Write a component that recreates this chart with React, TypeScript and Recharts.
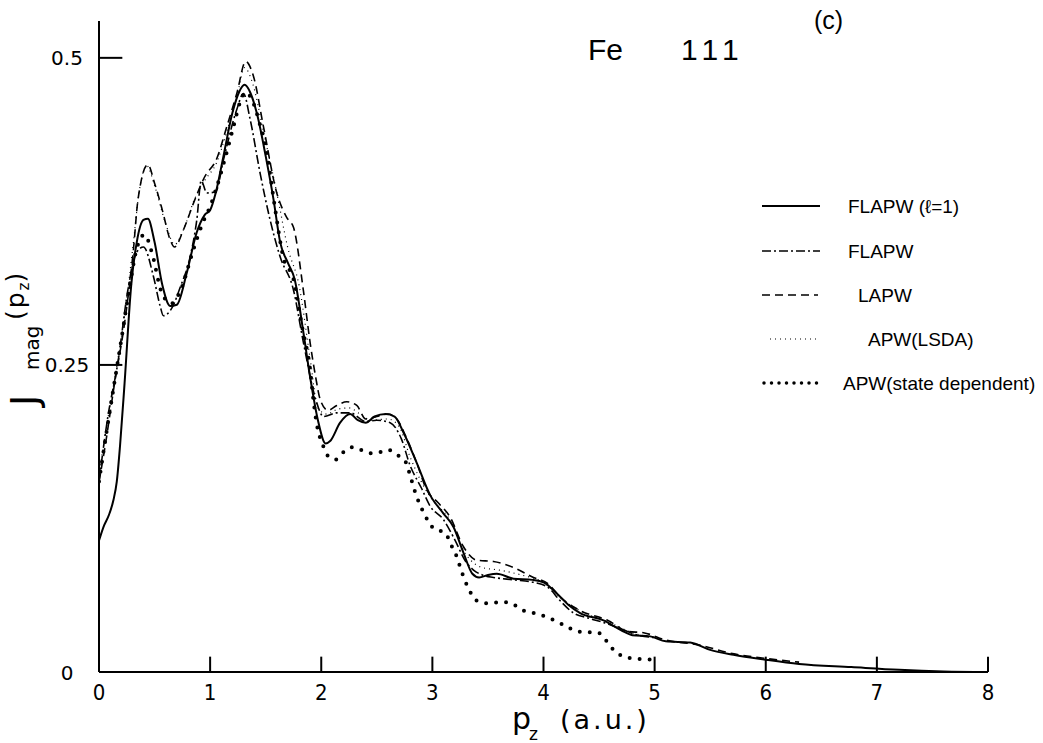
import React from 'react';
import { LineChart, Line, XAxis, YAxis, ReferenceLine } from 'recharts';

// p_z (a.u.) vs J_mag(p_z)
const xTicks = [0, 1, 2, 3, 4, 5, 6, 7, 8];
const yTicks = [0, 0.25, 0.5];
const yTickLabels = ['0', '0.25', '0.5'];

const flapwL1 = [
  [0, 0.107], [0.04, 0.118], [0.09, 0.128], [0.13, 0.14], [0.16, 0.155], [0.19, 0.185],
  [0.23, 0.235], [0.29, 0.315], [0.34, 0.35], [0.4, 0.368], [0.44, 0.369], [0.5, 0.35],
  [0.57, 0.315], [0.64, 0.298], [0.7, 0.299], [0.79, 0.325], [0.88, 0.358], [0.95, 0.372],
  [1.0, 0.376], [1.05, 0.39], [1.12, 0.42], [1.2, 0.455], [1.26, 0.472], [1.31, 0.478],
  [1.36, 0.472], [1.42, 0.455], [1.5, 0.42], [1.57, 0.385], [1.63, 0.35], [1.7, 0.333],
  [1.76, 0.32], [1.84, 0.276], [1.9, 0.24], [1.97, 0.205], [2.04, 0.186], [2.08, 0.188],
  [2.17, 0.203], [2.26, 0.21], [2.33, 0.205], [2.4, 0.203], [2.48, 0.208], [2.58, 0.21],
  [2.66, 0.208], [2.74, 0.195], [2.86, 0.17], [2.98, 0.144], [3.1, 0.129], [3.19, 0.118],
  [3.28, 0.097], [3.36, 0.08], [3.42, 0.077], [3.5, 0.079], [3.58, 0.08], [3.73, 0.076],
  [3.9, 0.075], [4.0, 0.073], [4.12, 0.064], [4.22, 0.055], [4.33, 0.048], [4.54, 0.042],
  [4.7, 0.034], [4.8, 0.03], [4.96, 0.029], [5.1, 0.025], [5.32, 0.024], [5.5, 0.018],
  [5.71, 0.014], [6.0, 0.01], [6.3, 0.0065], [6.77, 0.004], [7.2, 0.0018], [7.6, 0.0005],
  [8.0, 0.0],
];

const flapw = [
  [0, 0.155], [0.08, 0.208], [0.17, 0.252], [0.26, 0.311], [0.34, 0.342], [0.4, 0.346],
  [0.49, 0.322], [0.55, 0.298], [0.58, 0.29], [0.66, 0.297], [0.73, 0.313], [0.82, 0.338],
  [0.88, 0.368], [0.92, 0.4], [0.97, 0.39], [1.05, 0.391], [1.12, 0.417], [1.24, 0.458],
  [1.3, 0.471], [1.36, 0.45], [1.45, 0.406], [1.54, 0.368], [1.63, 0.338], [1.75, 0.311],
  [1.84, 0.268], [1.95, 0.222], [2.02, 0.208], [2.14, 0.211], [2.26, 0.211], [2.4, 0.204],
  [2.5, 0.205], [2.62, 0.203], [2.72, 0.19], [2.8, 0.168], [2.9, 0.15], [2.98, 0.135],
  [3.1, 0.124], [3.2, 0.108], [3.3, 0.09], [3.37, 0.083], [3.45, 0.079], [3.55, 0.077],
  [3.73, 0.075], [3.91, 0.073], [4.04, 0.069], [4.15, 0.058], [4.27, 0.048], [4.4, 0.044],
  [4.55, 0.04], [4.7, 0.035], [4.85, 0.03], [5.0, 0.028],
];

const lapw = [
  [0, 0.155], [0.05, 0.181], [0.14, 0.235], [0.23, 0.284], [0.31, 0.344], [0.35, 0.384],
  [0.44, 0.413], [0.5, 0.398], [0.57, 0.376], [0.64, 0.352], [0.68, 0.346], [0.76, 0.36],
  [0.86, 0.384], [0.95, 0.403], [1.06, 0.418], [1.15, 0.444], [1.24, 0.471], [1.32, 0.497],
  [1.39, 0.485], [1.48, 0.444], [1.6, 0.39], [1.69, 0.37], [1.75, 0.362], [1.84, 0.31],
  [1.9, 0.268], [1.95, 0.24], [1.99, 0.222], [2.06, 0.213], [2.14, 0.217], [2.23, 0.22],
  [2.32, 0.217], [2.4, 0.206], [2.5, 0.208], [2.6, 0.21], [2.68, 0.206], [2.76, 0.192],
  [2.86, 0.17], [2.95, 0.148], [3.05, 0.138], [3.16, 0.126], [3.28, 0.102], [3.4, 0.091],
  [3.55, 0.09], [3.73, 0.085], [3.91, 0.077], [4.04, 0.072], [4.15, 0.061], [4.33, 0.05],
  [4.58, 0.042], [4.76, 0.033], [4.9, 0.032], [5.1, 0.026], [5.4, 0.022], [5.7, 0.015],
  [6.0, 0.011], [6.3, 0.008],
];

const apwLsda = [
  [0, 0.16], [0.05, 0.19], [0.14, 0.238], [0.23, 0.29], [0.31, 0.35], [0.36, 0.39],
  [0.43, 0.412], [0.5, 0.396], [0.6, 0.365], [0.68, 0.348], [0.76, 0.36], [0.86, 0.385],
  [0.95, 0.4], [1.06, 0.415], [1.15, 0.44], [1.24, 0.468], [1.31, 0.492], [1.38, 0.48],
  [1.48, 0.44], [1.6, 0.39], [1.7, 0.345], [1.8, 0.315], [1.9, 0.255], [1.97, 0.215],
  [2.05, 0.21], [2.15, 0.214], [2.25, 0.215], [2.35, 0.21], [2.45, 0.205], [2.6, 0.206],
  [2.7, 0.2], [2.8, 0.175], [2.9, 0.155], [3.0, 0.14], [3.15, 0.125], [3.3, 0.096],
  [3.45, 0.085], [3.6, 0.083], [3.8, 0.079], [4.0, 0.073], [4.2, 0.057], [4.4, 0.047],
  [4.6, 0.04], [4.8, 0.032], [5.0, 0.028],
];

const apwState = [
  [0, 0.155], [0.05, 0.185], [0.12, 0.225], [0.2, 0.27], [0.27, 0.31], [0.34, 0.345],
  [0.41, 0.356], [0.48, 0.34], [0.56, 0.31], [0.65, 0.3], [0.73, 0.31], [0.85, 0.344],
  [0.93, 0.365], [1.0, 0.379], [1.06, 0.395], [1.14, 0.42], [1.21, 0.444], [1.27, 0.464],
  [1.32, 0.472], [1.39, 0.463], [1.45, 0.445], [1.51, 0.423], [1.58, 0.38], [1.66, 0.337],
  [1.75, 0.32], [1.83, 0.28], [1.9, 0.246], [1.93, 0.221], [1.97, 0.197], [2.01, 0.186],
  [2.05, 0.177], [2.13, 0.173], [2.2, 0.179], [2.28, 0.183], [2.35, 0.181], [2.44, 0.178],
  [2.53, 0.179], [2.6, 0.181], [2.68, 0.177], [2.76, 0.171], [2.8, 0.16], [2.85, 0.145],
  [2.92, 0.13], [3.01, 0.117], [3.12, 0.113], [3.16, 0.105], [3.21, 0.096], [3.27, 0.08],
  [3.33, 0.067], [3.4, 0.058], [3.5, 0.056], [3.64, 0.057], [3.73, 0.055], [3.82, 0.05],
  [3.91, 0.048], [4.02, 0.045], [4.12, 0.041], [4.21, 0.037], [4.3, 0.033], [4.49, 0.032],
  [4.56, 0.026], [4.63, 0.018], [4.71, 0.013], [4.81, 0.011], [5.0, 0.01],
];

const toPoints = (arr: number[][]) => arr.map(([x, y]) => ({ x, y }));

const series = [
  { name: 'FLAPW (ℓ=1)', data: flapwL1, width: 2, dash: undefined as string | undefined, cap: 'butt' },
  { name: 'FLAPW', data: flapw, width: 1.6, dash: '9 3 2 3', cap: 'butt' },
  { name: 'LAPW', data: lapw, width: 1.6, dash: '8 5', cap: 'butt' },
  { name: 'APW(LSDA)', data: apwLsda, width: 1.2, dash: '1 4', cap: 'butt' },
  { name: 'APW(state dependent)', data: apwState, width: 4, dash: '0 10', cap: 'round' },
];

const legendRows = [
  { y: 206, x1: 762, x2: 820, tx: 848 },
  { y: 251, x1: 762, x2: 820, tx: 848 },
  { y: 295, x1: 762, x2: 818, tx: 858 },
  { y: 339, x1: 770, x2: 817, tx: 868 },
  { y: 383, x1: 764, x2: 818, tx: 843 },
];

const FONT = "'Liberation Sans', Arial, sans-serif";
const AXIS_FONT = "'DejaVu Sans', sans-serif";
const NUM_FONT = "'Liberation Sans Narrow', 'DejaVu Sans Condensed', 'Liberation Sans', sans-serif";
const X_TICK_LEN = 0.0125;
const Y_TICK_LEN = 0.21;

const XTick = (props: any) => {
  const { x, y, payload } = props;
  return (
    <text x={x} y={y + 20} textAnchor="middle" fontFamily={NUM_FONT} fontSize={22} fill="#000">
      {payload.value}
    </text>
  );
};

const YTick = (props: any) => {
  const { y, payload } = props;
  const i = yTicks.indexOf(payload.value);
  return (
    <text x={67} y={y + 7.5} textAnchor="middle" fontFamily={AXIS_FONT} fontSize={20} fill="#000">
      {yTickLabels[i]}
    </text>
  );
};

export default function App() {
  return (
    <div style={{ position: 'absolute', left: 0, top: 0, width: 1043, height: 743, background: '#fff' }}>
      <LineChart width={1043} height={743} margin={{ top: 21, right: 55, bottom: 31, left: 0 }}>
        <XAxis
          dataKey="x"
          type="number"
          domain={[0, 8]}
          ticks={xTicks}
          tickLine={false}
          axisLine={{ stroke: '#000', strokeWidth: 2 }}
          tick={<XTick />}
          height={40}
          allowDataOverflow
        />
        <YAxis
          type="number"
          domain={[0, 0.53]}
          ticks={yTicks}
          tickLine={false}
          axisLine={{ stroke: '#000', strokeWidth: 2 }}
          tick={<YTick />}
          width={99}
          allowDataOverflow
        />
        {xTicks.slice(1).map((t) => (
          <ReferenceLine
            key={'xt' + t}
            segment={[{ x: t, y: 0 }, { x: t, y: X_TICK_LEN }]}
            stroke="#000"
            strokeWidth={2}
            ifOverflow="visible"
          />
        ))}
        {yTicks.slice(1).map((t) => (
          <ReferenceLine
            key={'yt' + t}
            segment={[{ x: 0, y: t }, { x: Y_TICK_LEN, y: t }]}
            stroke="#000"
            strokeWidth={2}
            ifOverflow="visible"
          />
        ))}
        {series.map((s) => (
          <Line
            key={s.name}
            data={toPoints(s.data)}
            dataKey="y"
            name={s.name}
            type="monotone"
            stroke="#000"
            strokeWidth={s.width}
            strokeDasharray={s.dash}
            strokeLinecap={s.cap as any}
            dot={false}
            activeDot={false}
            isAnimationActive={false}
          />
        ))}
      </LineChart>

      <svg
        width={1043}
        height={743}
        style={{ position: 'absolute', left: 0, top: 0, pointerEvents: 'none' }}
      >
        <text x={588} y={60} fontFamily={FONT} fontSize={30} fill="#000">Fe</text>
        <text x={681} y={60} fontFamily={FONT} fontSize={30} fill="#000" letterSpacing={6}>111</text>
        <text x={814} y={29} fontFamily={FONT} fontSize={25} fill="#000">(c)</text>

        {series.map((s, i) => {
          const r = legendRows[i];
          return (
            <g key={s.name}>
              <line
                x1={r.x1}
                x2={r.x2}
                y1={r.y}
                y2={r.y}
                stroke="#000"
                strokeWidth={s.cap === 'round' ? 3.5 : s.width}
                strokeDasharray={s.cap === 'round' ? '0 7.5' : s.dash}
                strokeLinecap={s.cap as any}
              />
              <text x={r.tx} y={r.y + 7} fontFamily={FONT} fontSize={19} fill="#000">
                {s.name}
              </text>
            </g>
          );
        })}

        <text fontFamily={AXIS_FONT} fill="#000">
          <tspan x={512} y={729} fontSize={30}>p</tspan>
          <tspan x={529} y={740} fontSize={17}>z</tspan>
          <tspan x={560} y={729} fontSize={27} letterSpacing={3}>(a.u.)</tspan>
        </text>

        <text transform="translate(37, 406) rotate(-90)" fontFamily={AXIS_FONT} fill="#000">
          <tspan x={0} y={0} fontSize={38}>J</tspan>
          <tspan x={36} y={2} fontSize={20}>mag</tspan>
          <tspan x={86} y={-13} fontSize={25} letterSpacing={2}>(p</tspan>
          <tspan dy={5} fontSize={15}>z</tspan>
          <tspan dy={-5} fontSize={25}>)</tspan>
        </text>
      </svg>
    </div>
  );
}
